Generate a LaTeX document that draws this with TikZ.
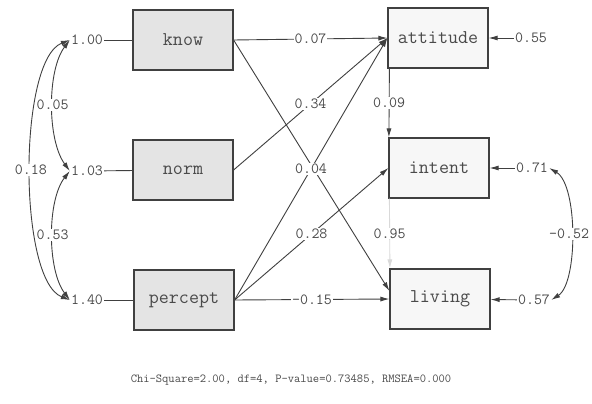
\documentclass[tikz,border=0pt]{standalone}
\usepackage{fontspec}
\usetikzlibrary{arrows.meta}
\definecolor{ln}{HTML}{404040}
\definecolor{txt}{HTML}{4A4A4A}
\definecolor{exofill}{HTML}{E4E4E4}
\definecolor{endofill}{HTML}{F7F7F7}
\begin{document}
\begin{tikzpicture}[x=1pt,y=-1pt,
  every node/.style={font=\ttfamily, text=txt},
  box/.style={draw=ln, line width=1.2pt, minimum width=100pt, minimum height=60pt, inner sep=0pt, font=\ttfamily\fontsize{19.5}{19.5}\selectfont},
  exo/.style={box, fill=exofill},
  endo/.style={box, fill=endofill},
  lab/.style={fill=white, inner sep=1pt, font=\ttfamily\fontsize{15.5}{15.5}\selectfont},
  arr/.style={draw=ln, line width=0.9pt, -{Latex[length=9pt,width=5pt]}},
  cov/.style={draw=ln, line width=0.9pt, {Latex[length=9pt,width=5pt]}-{Latex[length=9pt,width=5pt]}},
  plainline/.style={draw=ln, line width=0.9pt}
]
\useasboundingbox (0,0) rectangle (592,404);
\fill[white] (0,0) rectangle (592,404);

% boxes
\node[exo] (know) at (183,40) {know};
\node[exo] (norm) at (183,170) {norm};
\node[exo] (percept) at (184,300) {percept};
\node[endo] (attitude) at (438,38) {attitude};
\node[endo] (intent) at (439,168) {intent};
\node[endo] (living) at (440,299) {living};

% variances
\node[lab] (v1) at (87,40) {1.00};
\node[lab] (v2) at (87,171) {1.03};
\node[lab] (v3) at (87,300) {1.40};
\draw[plainline] (v1) -- (know);
\draw[plainline] (v2) -- (norm);
\draw[plainline] (v3) -- (percept);

% covariances (left)
\draw[cov] (v1.west) .. controls (18,60) and (18,280) .. (v3.west) node[pos=.5,lab] (c13) {0.18};
\draw[cov] (v1.west) .. controls (47,70) and (47,140) .. (v2.west) node[pos=.5,lab] (c12) {0.05};
\draw[cov] (v2.west) .. controls (47,200) and (47,270) .. (v3.west) node[pos=.5,lab] (c23) {0.53};

% structural paths
\draw[arr] (know.east) -- ([yshift=8pt]living.west);
\draw[arr] (know.east) -- node[lab] (p1) {0.07} (attitude.west);
\draw[arr] (norm.east) -- node[lab] (p2) {0.34} (attitude.west);
\draw[arr] (percept.east) -- node[lab] (p4) {0.28} (intent.west);
\draw[arr] (percept.east) -- node[lab] (p5) {-0.15} (living.west);
\draw[arr] (percept.east) -- node[lab] (p3) {0.04} (attitude.west);
\draw[arr] ([xshift=2pt]attitude.south west) -- node[lab] (p6) {0.09} ([xshift=0.5pt]intent.north west);
\draw[arr, draw=ln!20] ([xshift=1pt]intent.south west) -- node[lab] (p7) {0.95} ([xshift=0.5pt]living.north west);

% residuals
\node[lab] (e1) at (531,38) {0.55};
\node[lab] (e2) at (532,168) {0.71};
\node[lab] (e3) at (534,300) {0.57};
\draw[arr] (e1) -- (attitude);
\draw[arr] (e2) -- (intent);
\draw[arr] (e3) -- (living);
\draw[cov] (e2.east) .. controls (578,185) and (578,283) .. (e3.east) node[pos=.5,lab,xshift=-2pt] (c45) {-0.52};

% fit statistics
\node[font=\ttfamily\fontsize{12.2}{14}\selectfont] (chi) at (291,380) {Chi-Square=2.00, df=4, P-value=0.73485, RMSEA=0.000};
\end{tikzpicture}
\end{document}
